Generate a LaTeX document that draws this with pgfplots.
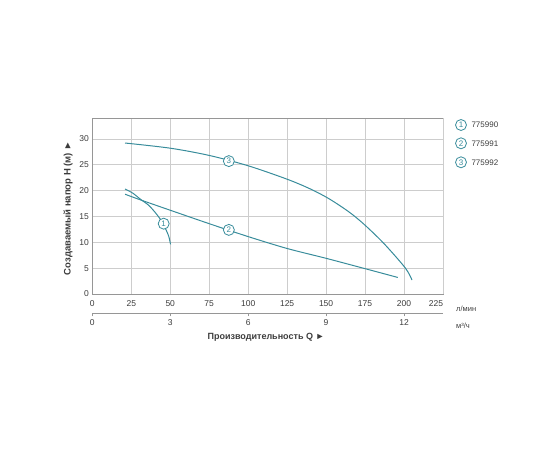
\documentclass[border=0pt]{standalone}
\usepackage{fontspec}
\setmainfont{Liberation Sans}
\usepackage{pgfplots}
\pgfplotsset{compat=1.18}
\definecolor{curve}{RGB}{56,140,155}
\definecolor{gridc}{RGB}{205,205,205}
\definecolor{framec}{RGB}{150,150,150}
\definecolor{txt}{RGB}{60,60,60}
\tikzset{num/.style={circle, draw=curve, fill=white, line width=0.8pt, inner sep=0pt,
  minimum size=11pt, text=curve, font=\fontsize{8}{9}\selectfont}}
\begin{document}
\begin{tikzpicture}[x=1pt,y=1pt]
\useasboundingbox (0,0) rectangle (560,460);
\begin{axis}[
  at={(92.3pt,166pt)}, anchor=south west, scale only axis,
  width=350.7pt, height=175.8pt,
  xmin=0, xmax=225, ymin=0, ymax=34,
  xtick={0,25,...,200}, ytick={0,5,...,30},
  extra x ticks={225},
  extra x tick style={xticklabel style={xshift=-7pt}},
  grid=major, major grid style={gridc, line width=0.6pt},
  axis line style={framec, line width=0.8pt},
  major tick length=0pt,
  tick label style={font=\fontsize{8.5}{10}\selectfont, text=txt},
  xticklabel style={yshift=-3pt},
  /pgf/number format/assume math mode=true,
  clip=false,
]
% 1 - 775990
\addplot[curve, line width=1pt, smooth] coordinates {
  (21,20.3) (26,19.5) (31,18.3) (36,17.2) (40,15.9) (44,14.3) (47,12.6) (49,11.2) (50.2,9.6)
};
% 2 - 775991
\addplot[curve, line width=1pt, smooth] coordinates {
  (21,19.3) (30,18.3) (50,16.2) (75,13.6) (100,11.1) (125,8.8) (150,6.9) (175,4.9) (196,3.2)
};
% 3 - 775992
\addplot[curve, line width=1pt, smooth] coordinates {
  (21,29.2) (50,28.2) (75,26.8) (100,24.8) (125,22.2) (140,20.3) (152,18.4) (165,15.8) (175,13.3) (187.6,9.6) (200.9,5.0) (205.1,2.7)
};
\node[num] at (axis cs:45.8,13.6) {1};
\node[num] at (axis cs:87.6,12.4) {2};
\node[num] at (axis cs:87.6,25.7) {3};
\end{axis}
\begin{axis}[
  at={(92.3pt,146.7pt)}, anchor=south west, scale only axis,
  width=350.7pt, height=10pt,
  xmin=0, xmax=13.5, ymin=0, ymax=1,
  axis x line*=bottom, axis y line=none,
  xtick={0,3,...,12}, ytick=\empty,
  tick align=outside, major tick length=3pt,
  axis line style={framec, line width=0.8pt},
  tick style={framec, line width=0.8pt},
  tick label style={font=\fontsize{8.5}{10}\selectfont, text=txt},
  /pgf/number format/assume math mode=true,
]
\addplot[draw=none] coordinates {(0,0)};
\end{axis}
\node[rotate=90, font=\bfseries\fontsize{9.5}{11}\selectfont, text=txt] at (68,252) {Создаваемый напор H (м) ►};
\node[font=\bfseries\fontsize{9}{11}\selectfont, text=txt] at (266,123) {Производительность Q ►};
\node[anchor=west, inner sep=0pt, font=\fontsize{7.5}{8}\selectfont, text=txt] at (456,151) {л/мин};
\node[anchor=west, inner sep=0pt, font=\fontsize{7.5}{8}\selectfont, text=txt] at (456,134) {м³/ч};
\node[num] at (461,335) {1};
\node[num] at (461,316.7) {2};
\node[num] at (461,297.7) {3};
\node[anchor=west, font=\fontsize{8}{9}\selectfont, text=txt] at (468,335) {775990};
\node[anchor=west, font=\fontsize{8}{9}\selectfont, text=txt] at (468,316.7) {775991};
\node[anchor=west, font=\fontsize{8}{9}\selectfont, text=txt] at (468,297.7) {775992};
\end{tikzpicture}
\end{document}
